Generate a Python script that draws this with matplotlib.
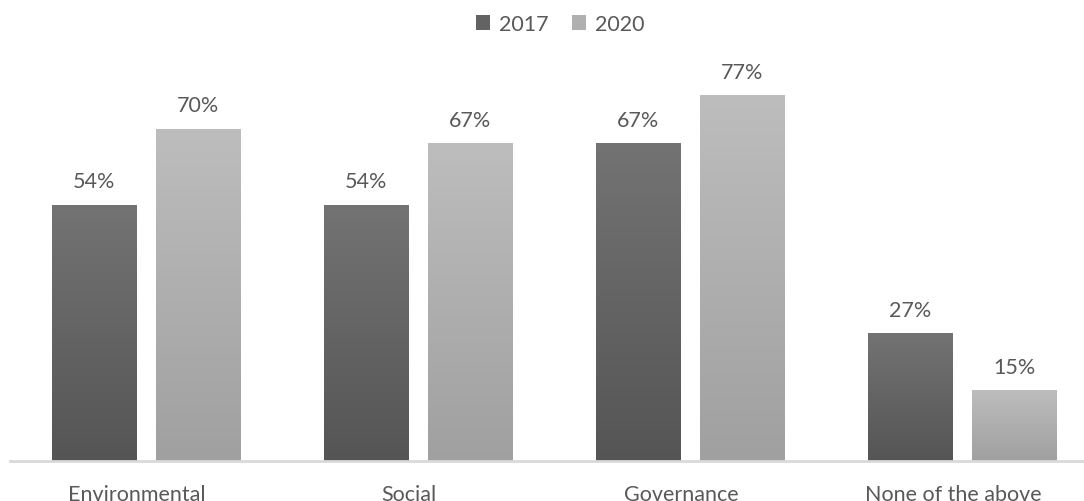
import matplotlib
matplotlib.use("Agg")
import matplotlib.pyplot as plt
import numpy as np
from matplotlib.colors import LinearSegmentedColormap
from matplotlib.patches import Patch

categories = ["Environmental", "Social", "Governance", "None of the above"]
series_names = ["2017", "2020"]
values_2017 = [54, 54, 67, 27]
values_2020 = [70, 67, 77, 15]

plt.rcParams['font.family'] = ['Lato', 'DejaVu Sans']

W, H = 1084, 502
fig = plt.figure(figsize=(W / 100, H / 100), dpi=100)
left_px = 10
base_px = 462
ax = fig.add_axes([left_px / W, (H - base_px) / H, 1 - left_px / W, base_px / H])

px_per_unit = 272.0
px_per_pct = 4.75
ax.axis('off')

x = np.arange(len(categories))
bw = 85 / px_per_unit
off = 52 / px_per_unit

grad_specs = [("#737373", "#555555"), ("#bdbdbd", "#a0a0a0")]
text_color = "#595959"
fs = 15.5

for vals, sign, (ctop, cbot) in zip([values_2017, values_2020], [-1, 1], grad_specs):
    bars = ax.bar(x + sign * off, vals, width=bw, color=cbot, edgecolor='none', zorder=2)
    cmap = LinearSegmentedColormap.from_list("g", [cbot, ctop])
    grad = np.linspace(0, 1, 256).reshape(-1, 1)
    for b, v in zip(bars, vals):
        x0, y0, w, h = b.get_x(), b.get_y(), b.get_width(), b.get_height()
        im = ax.imshow(grad, cmap=cmap, origin='lower', aspect='auto',
                       extent=[x0, x0 + w, y0, y0 + h], zorder=3)
        im.set_clip_path(b)
        ax.text(x0 + w / 2, h + 23 / px_per_pct, f"{v}%", ha='center', va='center',
                fontsize=fs, color=text_color, zorder=4)

ax.set_xlim(-0.5, -0.5 + (W - left_px) / px_per_unit)
ax.set_ylim(0, base_px / px_per_pct)

# baseline
ax.axhline(0, color="#d9d9d9", linewidth=2, zorder=5, clip_on=False)

# category labels
for xi, c in zip(x, categories):
    ax.text(xi - 9 / px_per_unit, -33 / px_per_pct, c, ha='center', va='center', fontsize=fs,
            color=text_color, clip_on=False)

handles = [Patch(facecolor="#636363", edgecolor='none'),
           Patch(facecolor="#b0b0b0", edgecolor='none')]
fig.legend(handles, series_names, loc='center', bbox_to_anchor=(560 / W, 1 - 25 / H),
           ncol=2, frameon=False, fontsize=fs, labelcolor=text_color,
           handlelength=0.65, handleheight=0.65, handletextpad=0.4, columnspacing=1.1)

fig.savefig("out.png", dpi=100)
